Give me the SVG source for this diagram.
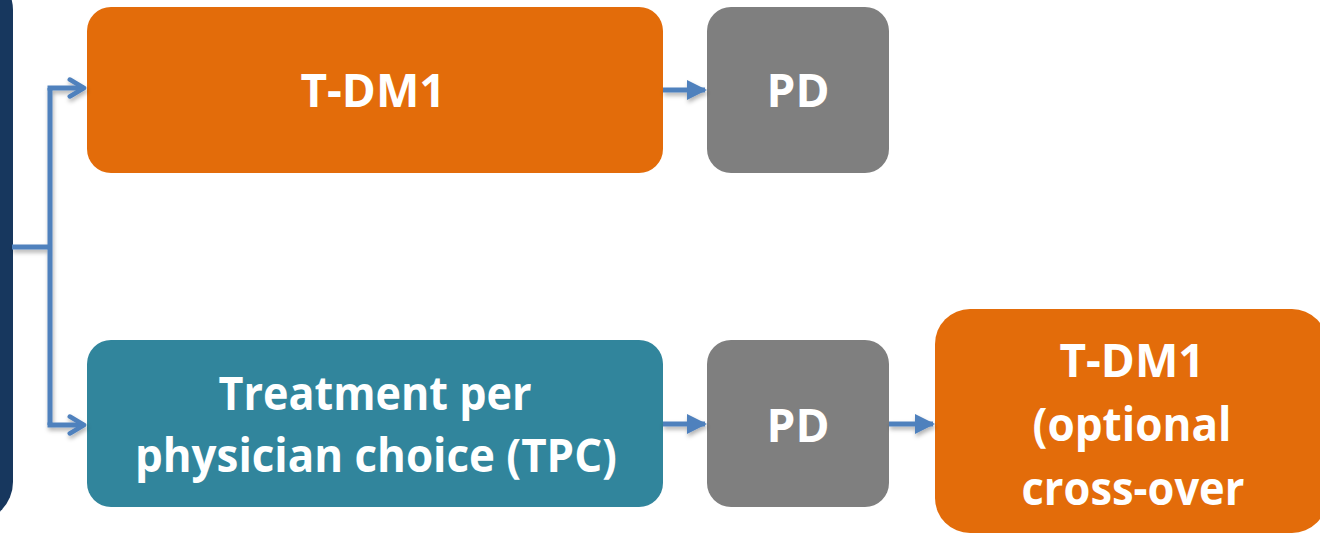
<svg xmlns="http://www.w3.org/2000/svg" width="1320" height="535" viewBox="0 0 1320 535">
  <defs>
    <style>
      .lbl { font-family: "Open Sans", "Liberation Sans", sans-serif; font-weight: bold; font-size: 46px; fill: #ffffff; text-anchor: middle; }
      .wire { fill: none; stroke: #4F81BD; stroke-width: 5; stroke-linejoin: miter; }
      .orange { fill: #E36C0A; }
      .grey { fill: #7F7F7F; }
      .teal { fill: #31859C; }
    </style>
    <filter id="soft" x="-20%" y="-20%" width="140%" height="160%">
      <feDropShadow dx="1" dy="3" stdDeviation="2" flood-color="#000" flood-opacity="0.3"/>
    </filter>
    <marker id="head" viewBox="0 0 10 10" refX="9" refY="5" markerWidth="4" markerHeight="4" markerUnits="strokeWidth" orient="auto">
      <path d="M0,0 L10,5 L0,10 Z" fill="#4F81BD"/>
    </marker>
    <marker id="chev" viewBox="0 0 10 11" refX="8.6" refY="5.5" markerWidth="4" markerHeight="4.4" markerUnits="strokeWidth" orient="auto">
      <path d="M1.5,1.3 L8.6,5.5 L1.5,9.7" fill="none" stroke="#4F81BD" stroke-width="2.3" stroke-linecap="round" stroke-linejoin="round"/>
    </marker>
  </defs>

  <rect width="1320" height="535" fill="#ffffff"/>

  <!-- source panel at the left edge -->
  <g id="source">
    <rect x="-220" y="-30" width="233" height="552" rx="40" fill="#17375E"/>
  </g>

  <g id="tdm1">
    <rect x="87" y="7" width="576" height="166" rx="24" class="orange"/>
    <text x="373" y="107" class="lbl">T-DM1</text>
  </g>

  <g id="pd-top">
    <rect x="707" y="7" width="182" height="166" rx="24" class="grey"/>
    <text x="798" y="107" class="lbl">PD</text>
  </g>

  <g id="tpc">
    <rect x="87" y="340" width="576" height="167" rx="24" class="teal"/>
    <text x="375" y="410" class="lbl" textLength="313" lengthAdjust="spacingAndGlyphs">Treatment per</text>
    <text x="376" y="472" class="lbl" textLength="482" lengthAdjust="spacingAndGlyphs">physician choice (TPC)</text>
  </g>

  <g id="pd-bottom">
    <rect x="707" y="340" width="182" height="167" rx="24" class="grey"/>
    <text x="798" y="442" class="lbl">PD</text>
  </g>

  <g id="crossover">
    <rect x="935" y="309" width="392" height="224" rx="35" class="orange"/>
    <text x="1132" y="377" class="lbl">T-DM1</text>
    <text x="1132" y="441" class="lbl" textLength="199" lengthAdjust="spacingAndGlyphs">(optional</text>
    <text x="1133" y="505" class="lbl" textLength="223" lengthAdjust="spacingAndGlyphs">cross-over</text>
  </g>

  <g id="connectors" filter="url(#soft)">
    <path class="wire" d="M12,247 H50"/>
    <path class="wire" d="M50,88 V425"/>
    <path class="wire" d="M47.5,88 H84" marker-end="url(#chev)"/>
    <path class="wire" d="M47.5,425 H84" marker-end="url(#chev)"/>
    <path class="wire" d="M663,90 H705" marker-end="url(#head)"/>
    <path class="wire" d="M663,424 H705" marker-end="url(#head)"/>
    <path class="wire" d="M889,424 H933" marker-end="url(#head)"/>
  </g>
</svg>
